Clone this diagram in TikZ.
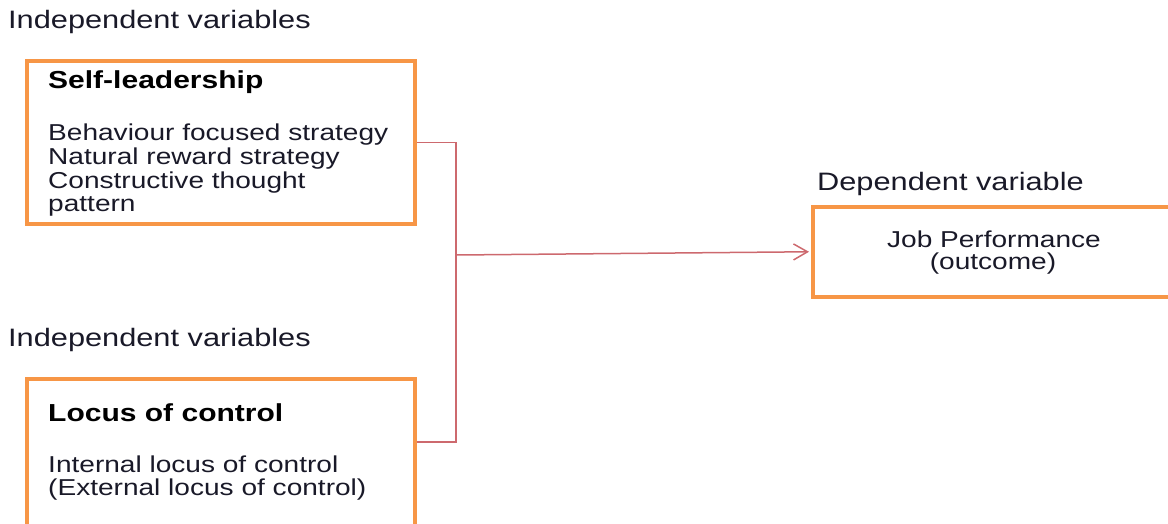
\documentclass[tikz,border=0pt]{standalone}
\usepackage{fontspec}
\setmainfont{Liberation Sans}[FakeStretch=1.22]
\usetikzlibrary{arrows.meta}

\definecolor{boxorange}{RGB}{247,150,70}
\definecolor{linkred}{RGB}{205,105,110}
\definecolor{inkdark}{RGB}{25,25,40}

\begin{document}
\begin{tikzpicture}[
    x=1pt, y=-1pt,
    box/.style={draw=boxorange, line width=4pt, inner sep=0pt, minimum width=388pt},
    heading/.style={anchor=base west, inner sep=0pt, text=inkdark, font=\fontsize{25.2}{30}\selectfont},
    title/.style={anchor=base west, inner sep=0pt, text=black, font=\fontsize{24.6}{30}\selectfont\bfseries},
    item/.style={anchor=base west, inner sep=0pt, text=inkdark, font=\fontsize{23}{24}\selectfont},
    link/.style={draw=linkred, line width=1.5pt},
    arrow/.style={link, -{Straight Barb[length=14pt, width=16pt]}, shorten >=2pt}
]
    \useasboundingbox (0,0) rectangle (1168,523);
    \clip (0,0) rectangle (1168,523);

    % --- Boxes ---
    \node[box, minimum height=163.5pt] (selfbox) at (221,142.25) {};
    \node[box, minimum height=181.5pt] (locusbox) at (221,469.25) {};
    \node[box, minimum width=387pt, minimum height=89.5pt] (jobbox) at (1006.5,251.75) {};

    % --- Group labels ---
    \node[heading] (indeptop) at (8,28) {Independent variables};
    \node[heading] (indepbottom) at (8,346) {Independent variables};
    \node[heading] (dep) at (817,190) {Dependent variable};

    % --- Self-leadership ---
    \node[title] (selftitle) at (48,88) {Self-leadership};
    \node[item] (selfA) at (48,140) {Behaviour focused strategy};
    \node[item] (selfB) at (48,164) {Natural reward strategy};
    \node[item] (selfC) at (48,188) {Constructive thought};
    \node[item] (selfD) at (48,211) {pattern};

    % --- Locus of control ---
    \node[title] (locustitle) at (48,421) {Locus of control};
    \node[item] (locusA) at (48,472) {Internal locus of control};
    \node[item] (locusB) at (48,495) {(External locus of control)};

    % --- Outcome ---
    \node[item, anchor=base] (jobA) at (994,247) {Job Performance};
    \node[item, anchor=base] (jobB) at (993,269) {(outcome)};

    % --- Connectors ---
    \coordinate (join) at (456,255);
    \draw[link] (selfbox.east) -| (join);
    \draw[link] ([yshift=-65.5pt]locusbox.north east) -| (join);
    \draw[arrow] (join) -- (jobbox.west);

\end{tikzpicture}
\end{document}
